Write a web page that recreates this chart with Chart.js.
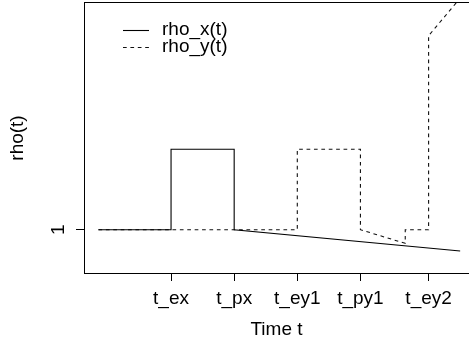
<!DOCTYPE html>
<html>
<head>
<meta charset="utf-8">
<script src="https://cdn.jsdelivr.net/npm/chart.js@4/dist/chart.umd.min.js"></script>
<style>
html,body{margin:0;padding:0;background:#fff;overflow:hidden;}
canvas{display:block;}
</style>
</head>
<body>
<canvas id="c" width="469" height="348"></canvas>
<script>
// Tick labels and their positions on the time axis
const tickLabels = ["t_ex", "t_px", "t_ey1", "t_py1", "t_ey2"];
const tickTimes  = [1.15, 2.15, 3.15, 4.15, 5.23];
const yTickValues = [1];
const yTickLabels = ["1"];

// rho_x(t): solid line
const rhoXTime  = [0, 1.15, 1.15, 2.15, 2.15, 5.73];
const rhoXValue = [1, 1, 2, 2, 1, 0.735];

// rho_y(t): dashed line
const rhoYTime  = [0, 3.15, 3.15, 4.15, 4.15, 4.86, 4.86, 5.23, 5.23, 5.73];
const rhoYValue = [1, 1, 2, 2, 1, 0.83, 1, 1, 3.41, 3.876];

const seriesNames = ["rho_x(t)", "rho_y(t)"];
const xTitle = "Time t";
const yTitle = "rho(t)";

const FONT = "'Liberation Sans', Arial, Helvetica, sans-serif";
const FS = 19;

function pts(xs, ys){ return xs.map((x,i)=>({x:x, y:ys[i]})); }

const framePlugin = {
  id: 'frame',
  afterDraw(chart){
    const ctx = chart.ctx, a = chart.chartArea;
    const ys = chart.scales.y;
    ctx.save();
    // top border of the box
    ctx.strokeStyle = '#000';
    ctx.lineWidth = 1;
    ctx.beginPath();
    ctx.moveTo(a.left, Math.round(a.top) - 0.5);
    ctx.lineTo(a.right, Math.round(a.top) - 0.5);
    ctx.stroke();
    // rotated y tick labels
    ctx.fillStyle = '#000';
    ctx.font = FS + 'px ' + FONT;
    ctx.textAlign = 'center';
    ctx.textBaseline = 'alphabetic';
    yTickValues.forEach((v,i)=>{
      const py = ys.getPixelForValue(v);
      ctx.save();
      ctx.translate(a.left - 20.5, py);
      ctx.rotate(-Math.PI/2);
      ctx.fillText(yTickLabels[i], 0, 0);
      ctx.restore();
    });
    // legend
    const lx0 = 123, lx1 = 149, tx = 162;
    const rows = [30, 47];
    chart.data.datasets.forEach((ds, i)=>{
      const y = rows[i];
      ctx.save();
      ctx.strokeStyle = ds.borderColor;
      ctx.lineWidth = ds.borderWidth;
      ctx.setLineDash(ds.borderDash || []);
      ctx.beginPath();
      ctx.moveTo(lx0, y + 0.5);
      ctx.lineTo(lx1, y + 0.5);
      ctx.stroke();
      ctx.restore();
      ctx.textAlign = 'left';
      ctx.textBaseline = 'middle';
      ctx.fillText(ds.label, tx, y);
    });
    ctx.restore();
  }
};

new Chart(document.getElementById('c'), {
  type: 'line',
  data: {
    datasets: [
      { label: seriesNames[0], data: pts(rhoXTime, rhoXValue), borderColor: '#000', borderWidth: 1.1,
        pointRadius: 0, fill: false, tension: 0 },
      { label: seriesNames[1], data: pts(rhoYTime, rhoYValue), borderColor: '#111', borderWidth: 1.1,
        borderDash: [3.7, 3.7], pointRadius: 0, fill: false, tension: 0 }
    ]
  },
  options: {
    responsive: false,
    devicePixelRatio: 1,
    animation: false,
    layout: { padding: { left: 0, top: 3, right: 0, bottom: 0 } },
    plugins: { legend: { display: false }, tooltip: { enabled: false } },
    scales: {
      x: {
        type: 'linear',
        min: -0.229, max: 5.87,
        afterFit(s){ s.height = 75; },
        afterBuildTicks(s){ s.ticks = tickTimes.map(v=>({value:v})); },
        border: { display: true, color: '#000', width: 1 },
        grid: { drawOnChartArea: false, drawTicks: true, tickLength: 8, color: '#000' },
        ticks: {
          color: '#000', padding: 6, maxRotation: 0, minRotation: 0, autoSkip: false,
          font: { family: FONT, size: FS },
          callback(v, i){ return tickLabels[i]; }
        },
        title: { display: true, text: xTitle, color: '#000', font: { family: FONT, size: FS },
                 padding: { top: 0, bottom: 6.5 } }
      },
      y: {
        type: 'linear',
        min: 0.462, max: 3.816,
        afterFit(s){ s.width = 84; },
        afterBuildTicks(s){ s.ticks = yTickValues.map(v=>({value:v})); },
        border: { display: true, color: '#000', width: 1 },
        grid: { drawOnChartArea: false, drawTicks: true, tickLength: 8, color: '#000' },
        ticks: { display: false },
        title: { display: true, text: yTitle, color: '#000', font: { family: FONT, size: FS },
                 padding: { top: 6.1, bottom: 0 } }
      }
    }
  },
  plugins: [framePlugin]
});
</script>
</body>
</html>
